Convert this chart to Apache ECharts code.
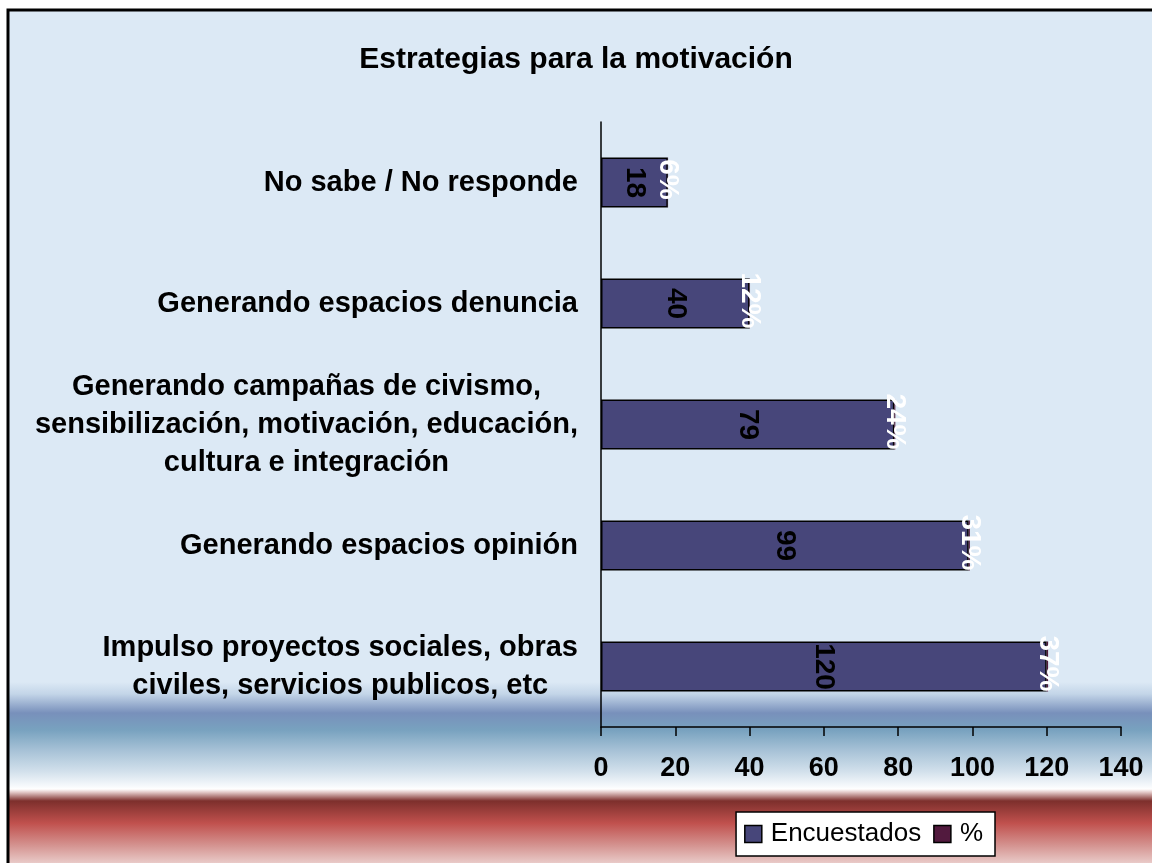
<!DOCTYPE html>
<html>
<head>
<meta charset="utf-8">
<script src="https://cdn.jsdelivr.net/npm/echarts@6/dist/echarts.min.js"></script>
<style>
  html, body { margin: 0; padding: 0; background: #fff; }
  #chart { width: 1152px; height: 863px; }
</style>
</head>
<body>
<div id="chart"></div>
<script>
// categorias (de abajo hacia arriba, como en el eje)
var categorias = [
  'Impulso proyectos sociales, obras\nciviles, servicios publicos, etc',
  'Generando espacios opinión',
  'Generando campañas de civismo,\nsensibilización, motivación, educación,\ncultura e integración',
  'Generando espacios denuncia',
  'No sabe / No responde'
]
var encuestados = [120, 99, 79, 40, 18]
var porcentajes = [37, 31, 24, 12, 6]

var font = "'Liberation Sans', Arial, sans-serif"

// fondo tipo Excel: azul claro con bandas azul / roja abajo
var fondo = {
  type: 'linear', x: 0, y: 0, x2: 0, y2: 863, global: true,
  colorStops: [
    { offset: 0, color: '#dce9f5' },
    { offset: 682 / 863, color: '#dce9f5' },
    { offset: 694 / 863, color: '#c3d5e8' },
    { offset: 713 / 863, color: '#7890bb' },
    { offset: 730 / 863, color: '#78a2bf' },
    { offset: 750 / 863, color: '#a6c1d6' },
    { offset: 772 / 863, color: '#d3e1ec' },
    { offset: 786 / 863, color: '#f6f9fc' },
    { offset: 789 / 863, color: '#ffffff' },
    { offset: 792 / 863, color: '#e6cdcc' },
    { offset: 801 / 863, color: '#7d2f2c' },
    { offset: 823 / 863, color: '#c0504d' },
    { offset: 845 / 863, color: '#d4928f' },
    { offset: 1, color: '#e9cac8' }
  ]
}

var chart = echarts.init(document.getElementById('chart'))
var option = {
  backgroundColor: '#fff',
  animation: false,
  graphic: [
    {
      type: 'rect', z: -10, silent: true,
      shape: { x: 8, y: 10, width: 1200, height: 900 },
      style: { fill: fondo }
    },
    {
      type: 'rect', z: 100, silent: true,
      shape: { x: 8, y: 10, width: 1200, height: 900 },
      style: { fill: 'none', stroke: '#000', lineWidth: 3 }
    }
  ],
  title: {
    text: 'Estrategias para la motivación',
    left: 'center',
    top: 40,
    textStyle: { fontFamily: font, fontSize: 30, fontWeight: 'bold', color: '#000' }
  },
  legend: {
    right: 157,
    top: 812,
    padding: [9, 12, 9, 8],
    backgroundColor: '#fff',
    borderColor: '#000',
    borderWidth: 1.5,
    borderRadius: 0,
    icon: 'rect',
    itemWidth: 17,
    itemHeight: 17,
    itemGap: 12,
    textStyle: { fontFamily: font, fontSize: 26, color: '#000', padding: [0, 0, 0, 4] },
    data: [
      { name: 'Encuestados', itemStyle: { color: '#47467a', borderColor: '#000', borderWidth: 1.5 } },
      { name: '%', itemStyle: { color: '#521a3e', borderColor: '#000', borderWidth: 1.5 } }
    ]
  },
  grid: { left: 601, right: 31, top: 122, bottom: 136 },
  xAxis: {
    type: 'value',
    min: 0,
    max: 140,
    interval: 20,
    splitLine: { show: false },
    axisLine: { show: true, lineStyle: { color: '#000', width: 1.5 } },
    axisTick: { show: true, length: 9, lineStyle: { color: '#000', width: 1.5 } },
    axisLabel: {
      margin: 28,
      fontFamily: font, fontSize: 27, fontWeight: 'bold', color: '#000'
    }
  },
  yAxis: {
    type: 'category',
    data: categorias,
    axisLine: { show: true, lineStyle: { color: '#000', width: 1.5 } },
    axisTick: { show: false },
    axisLabel: {
      margin: 23,
      formatter: function (v) {
        return v.split('\n').map(function (l) { return '{c|' + l + '}' }).join('\n')
      },
      rich: {
        c: {
          align: 'center',
          fontFamily: font, fontSize: 29, fontWeight: 'bold', color: '#000', lineHeight: 38
        }
      }
    }
  },
  series: [
    {
      name: 'Encuestados',
      type: 'bar',
      stack: 'total',
      barWidth: 50,
      data: encuestados,
      itemStyle: { color: '#47467a', borderColor: '#000', borderWidth: 1.5 },
      label: {
        show: true,
        position: 'inside',
        rotate: -90,
        fontFamily: font, fontSize: 28, fontWeight: 'bold', color: '#000'
      }
    },
    {
      name: '%',
      type: 'bar',
      stack: 'total',
      barWidth: 50,
      data: porcentajes.map(function (p) { return p / 100 }),
      itemStyle: { color: '#521a3e' },
      label: {
        show: true,
        position: 'inside',
        rotate: -90,
        offset: [-3, 0],
        formatter: function (p) { return porcentajes[p.dataIndex] + '%' },
        fontFamily: font, fontSize: 28, fontWeight: 'bold', color: '#fff'
      }
    }
  ]
}
chart.setOption(option)
</script>
</body>
</html>
